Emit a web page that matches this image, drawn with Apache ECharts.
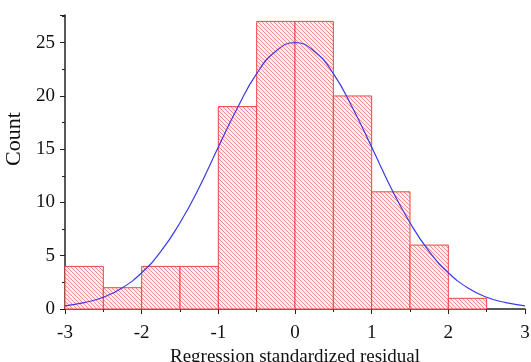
<!DOCTYPE html>
<html><head><meta charset="utf-8">
<script src="https://cdn.jsdelivr.net/npm/echarts@6/dist/echarts.min.js"></script>
<style>html,body{margin:0;padding:0;background:#fff}#c{width:531px;height:362px}</style>
</head><body><div id="c"></div>
<script>
// Histogram bins (start of each 0.5-wide bin) and counts
var binStarts = [-3, -2.5, -2, -1.5, -1, -0.5, 0, 0.5, 1, 1.5, 2, 2.5];
var binWidth = 0.5;
var counts = [4, 2, 4, 4, 19, 27, 27, 20, 11, 6, 1, 0];
// Normal curve
var curveX = [-3, -2.75, -2.5, -2.25, -2, -1.75, -1.5, -1.25, -1, -0.75, -0.5, -0.25, 0, 0.25, 0.5, 0.75, 1, 1.25, 1.5, 1.75, 2, 2.25, 2.5, 2.75, 3];
var curveY = [0.3, 0.6, 1.1, 2.0, 3.4, 5.4, 8.1, 11.4, 15.2, 18.9, 22.1, 24.2, 25, 24.2, 22.1, 18.9, 15.2, 11.4, 8.1, 5.4, 3.4, 2.0, 1.1, 0.6, 0.3];
var xTicks = [-3, -2, -1, 0, 1, 2, 3];
var yTicks = [0, 5, 10, 15, 20, 25];

var pat = document.createElement('canvas');
pat.width = 4; pat.height = 4;
var g = pat.getContext('2d');
g.fillStyle = '#fdeeee'; g.fillRect(0, 0, 4, 4);
g.fillStyle = 'rgba(238,100,100,0.7)';
for (var i = 0; i < 4; i++) { g.fillRect(i, i, 1, 1); }

var histData = binStarts.map(function (s, i) { return [s, s + binWidth, counts[i]]; });
var lineData = curveX.map(function (x, i) { return [x, curveY[i]]; });

var font = 'Liberation Serif';
var chart = echarts.init(document.getElementById('c'), null, {renderer: 'canvas'});
chart.setOption({
  animation: false,
  grid: {left: 65, right: 6, top: 15, bottom: 53, containLabel: false, outerBoundsMode: 'none'},
  xAxis: {
    type: 'value', min: -3, max: 3, interval: 1,
    name: 'Regression standardized residual', nameLocation: 'middle', nameGap: 38,
    nameTextStyle: {fontFamily: font, fontSize: 19, color: '#111'},
    axisLine: {onZero: false, lineStyle: {color: '#222', width: 1.5}},
    axisTick: {length: 5, lineStyle: {color: '#222'}},
    minorTick: {show: true, splitNumber: 2, length: 3, lineStyle: {color: '#222'}},
    splitLine: {show: false},
    axisLabel: {fontFamily: font, fontSize: 19, color: '#111', margin: 15,
      formatter: function (v) { return xTicks.indexOf(v) >= 0 ? String(v) : ''; }}
  },
  yAxis: {
    type: 'value', min: 0, max: 27.6, interval: 5,
    name: 'Count', nameLocation: 'middle', nameGap: 23, nameRotate: 90,
    nameTextStyle: {fontFamily: font, fontSize: 22, color: '#111', padding: [0, 0, 0, 46]},
    axisLine: {show: true, onZero: false, lineStyle: {color: '#222', width: 1.5}},
    axisTick: {show: true, length: 5, lineStyle: {color: '#222'}},
    minorTick: {show: true, splitNumber: 2, length: 3, lineStyle: {color: '#222'}},
    splitLine: {show: false},
    axisLabel: {fontFamily: font, fontSize: 19, color: '#111', margin: 10,
      formatter: function (v) { return yTicks.indexOf(v) >= 0 ? String(v) : ''; }}
  },
  series: [{
    type: 'custom',
    data: histData,
    encode: {x: [0, 1], y: 2},
    renderItem: function (params, api) {
      var v = api.value(2);
      if (!v) return null;
      var p0 = api.coord([api.value(0), 0]);
      var p1 = api.coord([api.value(1), v]);
      return {
        type: 'rect',
        shape: {x: p0[0], y: p1[1], width: p1[0] - p0[0], height: p0[1] - p1[1]},
        style: {fill: {image: pat, repeat: 'repeat'}, stroke: '#f04545', lineWidth: 1}
      };
    },
    z: 1
  }, {
    type: 'line', data: lineData, smooth: true, showSymbol: false,
    lineStyle: {color: '#3b3be6', width: 1.2}, z: 3
  }]
});
</script></body></html>
